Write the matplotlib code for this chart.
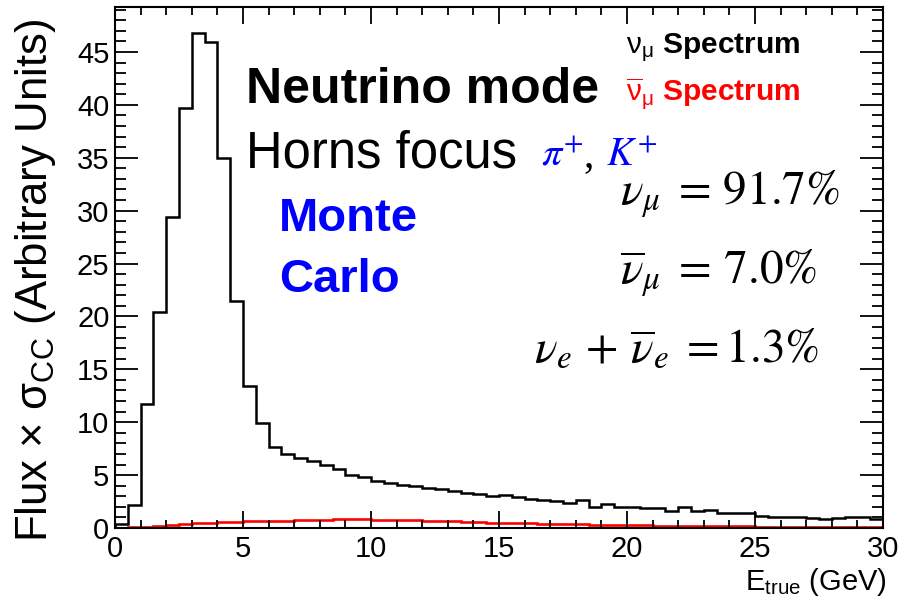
import matplotlib
matplotlib.use('Agg')
import matplotlib.pyplot as plt
import numpy as np
from matplotlib.ticker import MultipleLocator

plt.rcParams['font.family'] = ['Liberation Sans', 'DejaVu Sans']
plt.rcParams['mathtext.fontset'] = 'custom'
plt.rcParams['mathtext.rm'] = 'Liberation Sans'
plt.rcParams['mathtext.it'] = 'Liberation Sans:italic'
plt.rcParams['mathtext.bf'] = 'Liberation Sans:bold'
plt.rcParams['mathtext.sf'] = 'Liberation Sans'

# ---- data ----
bin_edges = np.linspace(0, 30, 61)  # 0.5 GeV bins
numu_flux = [0.4, 2.2, 11.7, 20.4, 29.4, 39.7, 46.8, 45.9, 35.0, 21.5,
             13.4, 9.9, 7.7, 7.0, 6.66, 6.3, 6.0, 5.55, 5.0, 4.8,
             4.4, 4.3, 4.07, 3.97, 3.75, 3.66, 3.53, 3.28, 3.19, 3.03,
             3.12, 2.9, 2.74, 2.65, 2.59, 2.4, 2.65, 2.0, 2.27, 2.0,
             1.96, 1.86, 1.86, 1.64, 1.96, 1.64, 1.7, 1.39, 1.39, 1.39,
             1.14, 1.07, 1.0, 1.0, 0.98, 0.82, 0.98, 1.0, 1.0, 0.82]
numubar_flux = [0.02, 0.05, 0.1, 0.2, 0.3, 0.38, 0.45, 0.5, 0.55, 0.6,
                0.62, 0.65, 0.68, 0.7, 0.72, 0.75, 0.8, 0.85, 0.88, 0.85,
                0.8, 0.75, 0.72, 0.72, 0.68, 0.65, 0.62, 0.58, 0.55, 0.5,
                0.48, 0.46, 0.44, 0.42, 0.4, 0.38, 0.35, 0.33, 0.3, 0.28,
                0.26, 0.24, 0.23, 0.22, 0.2, 0.2, 0.18, 0.17, 0.16, 0.15,
                0.14, 0.13, 0.13, 0.12, 0.12, 0.11, 0.1, 0.1, 0.1, 0.1]
x_ticks = [0, 5, 10, 15, 20, 25, 30]
y_ticks = [0, 5, 10, 15, 20, 25, 30, 35, 40, 45]

W, H = 903, 597
fig = plt.figure(figsize=(W / 100, H / 100), dpi=100)
ax = fig.add_axes([115 / W, 1 - 528 / H, (883 - 115) / W, (528 - 7) / H])

ax.stairs(numu_flux, bin_edges, color='black', lw=1.8)
ax.stairs(numubar_flux, bin_edges, color='#ff0000', lw=1.9)

ax.set_xlim(0, 30)
ax.set_ylim(0, 49.25)
ax.set_xticks(x_ticks)
ax.set_yticks(y_ticks)
ax.xaxis.set_minor_locator(MultipleLocator(1))
ax.yaxis.set_minor_locator(MultipleLocator(1))
ax.tick_params(which='both', direction='in', top=True, right=True,
               width=1.3, labelsize=21, colors='black')
ax.tick_params(axis='x', which='major', length=12, pad=5)
ax.tick_params(axis='x', which='minor', length=6)
ax.tick_params(axis='y', which='major', length=16.5, pad=4)
ax.tick_params(axis='y', which='minor', length=8)
for s in ax.spines.values():
    s.set_linewidth(1.5)


def px(x, y):
    return x / W, 1 - y / H


# axis titles
fig.text(*px(36, 19), r'Flux $\times$ $\mathrm{\sigma_{CC}}$ (Arbitrary Units)',
         rotation=90, ha='center', va='top', fontsize=31.5)
fig.text(*px(887, 590), r'E$_{\mathrm{true}}$ (GeV)', ha='right', va='baseline',
         fontsize=21)

# annotations
fig.text(*px(246, 103), 'Neutrino mode', fontsize=36, fontweight='bold',
         ha='left', va='baseline')
fig.text(*px(246, 168), 'Horns focus', fontsize=36.5, ha='left', va='baseline')
fig.text(*px(541, 166), r'$\pi^{+}$', fontsize=29, color='#0000ff',
         math_fontfamily='stix', ha='left', va='baseline')
fig.text(*px(583, 166), ',', fontsize=30, color='black',
         ha='left', va='baseline', family='Liberation Serif')
fig.text(*px(606, 166), r'$K^{+}$', fontsize=29, color='#0000ff',
         math_fontfamily='stix', ha='left', va='baseline')
fig.text(*px(279, 231), 'Monte', fontsize=34, fontweight='bold', color='#0000ff',
         ha='left', va='baseline')
fig.text(*px(279, 292), 'Carlo', fontsize=34, fontweight='bold', color='#0000ff',
         ha='left', va='baseline')

# legend-like labels
fig.text(*px(800, 53), r'$\mathrm{\nu_{\mu}}$ Spectrum', fontsize=21.5,
         fontweight='bold', color='black', ha='right', va='baseline')
fig.text(*px(800, 100), r'$\mathrm{\overline{\nu}_{\mu}}$ Spectrum', fontsize=21.5,
         fontweight='bold', color='#ff0000', ha='right', va='baseline')

# fractions
fig.text(*px(620, 205), r'$\nu_{\mu}\;=\,91.7\%$', fontsize=34,
         math_fontfamily='stix', ha='left', va='baseline')
fig.text(*px(620, 284), r'$\overline{\nu}_{\mu}\;=\,7.0\%$', fontsize=34,
         math_fontfamily='stix', ha='left', va='baseline')
fig.text(*px(534, 362), r'$\nu_{e}\,+\,\overline{\nu}_{e}\;=1.3\%$', fontsize=34,
         math_fontfamily='stix', ha='left', va='baseline')

fig.savefig('out.png', dpi=100)
